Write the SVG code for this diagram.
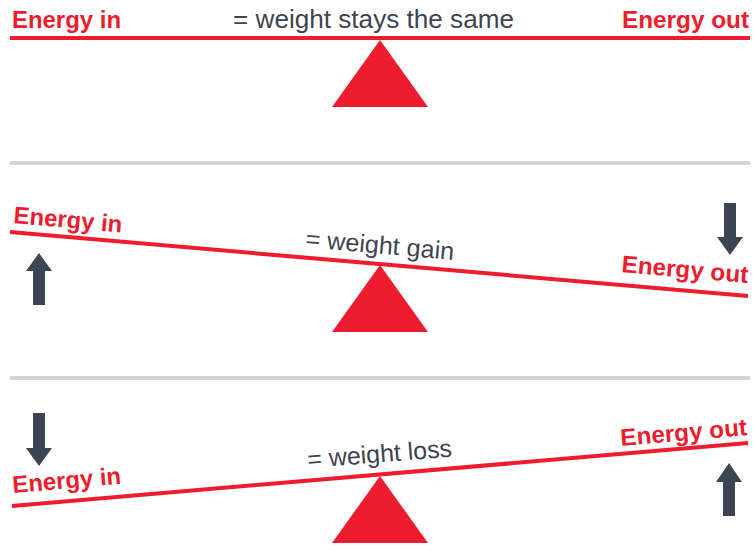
<svg xmlns="http://www.w3.org/2000/svg" width="754" height="546" viewBox="0 0 754 546">
<style>
.lbl{font-family:"Liberation Sans",Arial,sans-serif;font-weight:bold;font-size:24px;fill:#ed1c2e}
.eq{font-family:"Liberation Sans",Arial,sans-serif;font-size:25px;fill:#3d4452}
.beam{stroke:#ed1c2e;stroke-width:4;fill:none}
.div{stroke:#d3d3cf;stroke-width:4;fill:none}
.tri{fill:#ed1c2e}
.arr{fill:#3d4452}
</style>
<rect width="754" height="546" fill="#ffffff"/>
<g id="panel-same">
<line class="beam" x1="10" y1="38" x2="750" y2="38"/>
<polygon class="tri" points="380,40 428,107 332,107"/>
<text class="lbl" x="12" y="28" textLength="109" lengthAdjust="spacingAndGlyphs">Energy in</text>
<text class="eq" x="233" y="28" textLength="281" lengthAdjust="spacingAndGlyphs">= weight stays the same</text>
<text class="lbl" x="622" y="28" textLength="127" lengthAdjust="spacingAndGlyphs">Energy out</text>
</g>
<g id="dividers">
<line class="div" x1="10" y1="163" x2="750" y2="163"/>
<line class="div" x1="10" y1="378" x2="750" y2="378"/>
</g>
<g id="panel-gain">
<line class="beam" x1="10" y1="232" x2="748" y2="296"/>
<polygon class="tri" points="380,265 428,332 332,332"/>
<text class="lbl" transform="translate(13,223) rotate(5)" textLength="109" lengthAdjust="spacingAndGlyphs">Energy in</text>
<text class="eq" transform="translate(305,247) rotate(5)" textLength="149" lengthAdjust="spacingAndGlyphs">= weight gain</text>
<text class="lbl" transform="translate(621,272) rotate(5)" textLength="127" lengthAdjust="spacingAndGlyphs">Energy out</text>
</g>
<g id="panel-loss">
<line class="beam" x1="12" y1="506" x2="748" y2="443"/>
<polygon class="tri" points="380,476 428,543 332,543"/>
<text class="lbl" transform="translate(13,493) rotate(-4.9)" textLength="109" lengthAdjust="spacingAndGlyphs">Energy in</text>
<text class="eq" transform="translate(308,468) rotate(-4.5)" textLength="145" lengthAdjust="spacingAndGlyphs">= weight loss</text>
<text class="lbl" transform="translate(621,446) rotate(-4.9)" textLength="127" lengthAdjust="spacingAndGlyphs">Energy out</text>
</g>
<g id="arrows">
<polygon class="arr" points="39,253 52,271 45,271 45,305 33,305 33,271 26,271"/>
<polygon class="arr" points="730,255 743,237 736,237 736,203 724,203 724,237 717,237"/>
<polygon class="arr" points="39,466 52,448 45,448 45,413 33,413 33,448 26,448"/>
<polygon class="arr" points="729,463 742,482 735,482 735,516 723,516 723,482 716,482"/>
</g>
</svg>
